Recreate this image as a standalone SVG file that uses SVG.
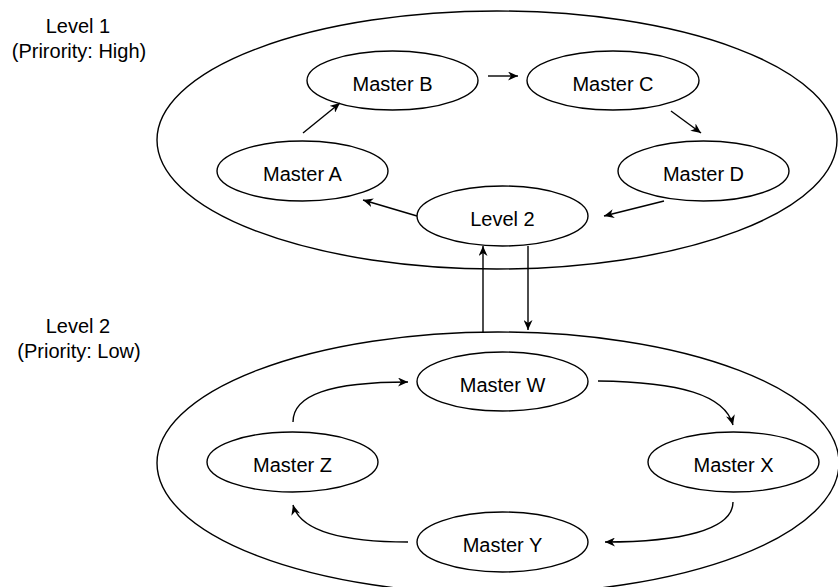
<svg xmlns="http://www.w3.org/2000/svg" width="838" height="587" viewBox="0 0 838 587">
<style>
.bg{fill:#ffffff}
.ol{fill:none;stroke:#000;stroke-width:1.4}
.nd{fill:#fff;stroke:#000;stroke-width:1.4}
.t{font-family:"Liberation Sans",Arial,sans-serif;font-size:20px;fill:#000;text-anchor:middle}
.c{fill:none;stroke:#000;stroke-width:1.4;marker-end:url(#ah)}
</style>
<defs>
<marker id="ah" viewBox="0 0 10 9" refX="10" refY="4.5" markerWidth="10" markerHeight="9" orient="auto" markerUnits="userSpaceOnUse">
<path d="M0,0 L10,4.5 L0,9 L3,4.5 Z" fill="#000"/>
</marker>
</defs>
<rect class="bg" x="0" y="0" width="838" height="587"/>
<g id="level1-group">
<ellipse class="ol" cx="497" cy="140" rx="340" ry="129"/>
<text class="t" x="78" y="33">Level 1</text>
<text class="t" x="79" y="57.5">(Prirority: High)</text>
</g>
<g id="level2-group">
<ellipse class="ol" cx="498" cy="463" rx="341" ry="131"/>
<text class="t" x="78" y="333">Level 2</text>
<text class="t" x="79" y="357.5">(Priority: Low)</text>
</g>
<g id="master-a"><ellipse class="nd" cx="302.5" cy="171" rx="85.5" ry="30"/><text class="t" x="302.5" y="181">Master A</text></g>
<g id="master-b"><ellipse class="nd" cx="392.5" cy="80.5" rx="85.5" ry="29.5"/><text class="t" x="392.5" y="91">Master B</text></g>
<g id="master-c"><ellipse class="nd" cx="613" cy="80.5" rx="86" ry="29.5"/><text class="t" x="613" y="91">Master C</text></g>
<g id="master-d"><ellipse class="nd" cx="703.5" cy="171" rx="85.5" ry="30"/><text class="t" x="703.5" y="181">Master D</text></g>
<g id="level2-node"><ellipse class="nd" cx="502.5" cy="216" rx="85.5" ry="30"/><text class="t" x="502.5" y="226">Level 2</text></g>
<g id="master-w"><ellipse class="nd" cx="502.5" cy="381.5" rx="85.5" ry="29.5"/><text class="t" x="502.5" y="392">Master W</text></g>
<g id="master-x"><ellipse class="nd" cx="733.5" cy="462" rx="85.5" ry="30"/><text class="t" x="733.5" y="472">Master X</text></g>
<g id="master-y"><ellipse class="nd" cx="502.5" cy="542" rx="85.5" ry="30"/><text class="t" x="502.5" y="552">Master Y</text></g>
<g id="master-z"><ellipse class="nd" cx="292.5" cy="462" rx="85.5" ry="30"/><text class="t" x="292.5" y="472">Master Z</text></g>
<g id="connectors">
<path class="c" d="M303,133 L340,103"/>
<path class="c" d="M488,76 L518,76"/>
<path class="c" d="M671,111 L701,133"/>
<path class="c" d="M664,201 L604,216"/>
<path class="c" d="M417,216 L363,200"/>
<path class="c" d="M483,332 L483,246"/>
<path class="c" d="M528,246 L528,330"/>
<path class="c" d="M293,422 C293,395 330,382 408,382"/>
<path class="c" d="M598,381 C680,382 725,395 733,425"/>
<path class="c" d="M733,502 C733,530 680,542 605,542"/>
<path class="c" d="M408,542 C340,542 300,530 293,505"/>
</g>
</svg>
